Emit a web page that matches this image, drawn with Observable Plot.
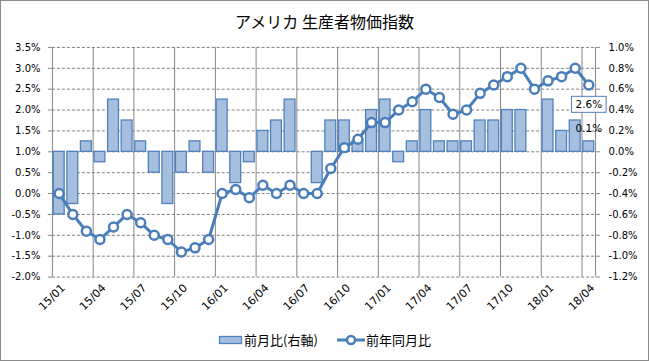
<!DOCTYPE html>
<html><head><meta charset="utf-8">
<script src="https://cdn.jsdelivr.net/npm/d3@7"></script>
<script src="https://cdn.jsdelivr.net/npm/@observablehq/plot@0.6"></script>
<style>
body{margin:0;background:#fff;}
#chart{position:relative;width:649px;height:361px;box-sizing:border-box;border:1px solid #8c8c8c;overflow:hidden;background:#fff;}
#title{position:absolute;left:0;right:0;top:9px;text-align:center;font-family:"Noto Sans CJK JP",sans-serif;font-size:16px;color:#000;line-height:22px;}
#plot{position:absolute;left:-1px;top:-1px;}
#legend{position:absolute;left:0;right:0;top:330px;display:flex;justify-content:center;align-items:center;font-family:"Noto Sans CJK JP",sans-serif;font-size:13px;color:#000;line-height:18px;}
#legend .item{display:flex;align-items:center;}
#legend svg{display:block;}
</style></head>
<body>
<div id="chart">
  <div id="title">アメリカ 生産者物価指数</div>
  <div id="plot"></div>
  <div id="legend">
    <div class="item"><svg width="26" height="10"><rect x="1.5" y="1.5" width="22" height="7" fill="#A7BFDE" stroke="#4F81BD" stroke-width="1.3"/></svg><span>前月比(右軸)</span></div>
    <div class="item" style="margin-left:18px"><svg width="30" height="12"><line x1="1" y1="6" x2="29" y2="6" stroke="#4A7EBB" stroke-width="3"/><circle cx="15" cy="6" r="4" fill="#fff" stroke="#4A7EBB" stroke-width="2.5"/></svg><span>前年同月比</span></div>
  </div>
</div>
<script>
const months = ["15/01","15/02","15/03","15/04","15/05","15/06","15/07","15/08","15/09","15/10","15/11","15/12",
  "16/01","16/02","16/03","16/04","16/05","16/06","16/07","16/08","16/09","16/10","16/11","16/12",
  "17/01","17/02","17/03","17/04","17/05","17/06","17/07","17/08","17/09","17/10","17/11","17/12",
  "18/01","18/02","18/03","18/04"];
// 前月比 (right axis, %)
const momPct = [-0.6,-0.5,0.1,-0.1,0.5,0.3,0.1,-0.2,-0.5,-0.2,0.1,-0.2,
  0.5,-0.3,-0.1,0.2,0.3,0.5,0.0,-0.3,0.3,0.3,0.1,0.4,
  0.5,-0.1,0.1,0.4,0.1,0.1,0.1,0.3,0.3,0.4,0.4,0.0,
  0.5,0.2,0.3,0.1];
// 前年同月比 (left axis, %)
const yoyPct = [0.0,-0.5,-0.9,-1.1,-0.8,-0.5,-0.7,-1.0,-1.1,-1.4,-1.3,-1.1,
  0.0,0.1,-0.1,0.2,0.0,0.2,0.0,0.0,0.6,1.1,1.3,1.7,
  1.7,2.0,2.2,2.5,2.3,1.9,2.0,2.4,2.6,2.8,3.0,2.5,
  2.7,2.8,3.0,2.6];
const leftTicks = [-2.0,-1.5,-1.0,-0.5,0.0,0.5,1.0,1.5,2.0,2.5,3.0,3.5];
const rightTicks = [-1.2,-1.0,-0.8,-0.6,-0.4,-0.2,0.0,0.2,0.4,0.6,0.8,1.0];

const L0 = leftTicks[0], L1 = leftTicks[leftTicks.length-1];
const R0 = rightTicks[0], R1 = rightTicks[rightTicks.length-1];
const toLeft = r => L0 + (r - R0) * (L1 - L0) / (R1 - R0);
const rightLabel = new Map(rightTicks.map(r => [toLeft(r), r.toFixed(1) + "%"]));

const rows = months.map((m, i) => ({i, month: m, mom: momPct[i], yoy: yoyPct[i]}));
const last = rows[rows.length - 1];
const xLabelPos = d3.range(0, months.length, 3).map(i => i + 0.5);
const gridX = d3.range(0, months.length, 3);

const chart = Plot.plot({
  width: 649, height: 361,
  marginLeft: 52, marginRight: 53, marginTop: 47, marginBottom: 84,
  x: {domain: [0, months.length], axis: null},
  y: {domain: [L0, L1], axis: null},
  style: {fontFamily: "DejaVu Sans, sans-serif", fontSize: "10px", color: "#000", background: "transparent", overflow: "visible"},
  marks: [
    Plot.ruleY(leftTicks, {stroke: "#7f7f7f", strokeDasharray: "3,2", strokeWidth: 1}),
    Plot.ruleX(gridX, {stroke: "#868686", strokeWidth: 1}),
    Plot.ruleX([months.length], {stroke: "#868686", strokeWidth: 1}),
    Plot.rectY(rows, {x1: d => d.i + 0.1, x2: d => d.i + 0.9, y1: toLeft(0), y2: d => toLeft(d.mom),
      fill: "#A7BFDE", stroke: "#4F81BD", strokeWidth: 1.3}),
    Plot.line(rows, {x: d => d.i + 0.5, y: "yoy", stroke: "#4A7EBB", strokeWidth: 3}),
    Plot.dot(rows, {x: d => d.i + 0.5, y: "yoy", r: 4.5, fill: "#fff", stroke: "#4A7EBB", strokeWidth: 2.5}),
    Plot.axisY(leftTicks, {anchor: "left", label: null, tickFormat: d => d.toFixed(1) + "%", tickSize: 4, tickPadding: 8, stroke: "#868686", fill: "#000"}),
    Plot.axisY(rightTicks.map(toLeft), {anchor: "right", label: null, tickFormat: v => rightLabel.get(v), tickSize: 4, tickPadding: 9, stroke: "#868686", fill: "#000"}),
    Plot.axisX(xLabelPos, {anchor: "bottom", label: null, tickFormat: t => months[Math.floor(t)], tickRotate: -45, tickSize: 0, tickPadding: 9, dx: 4, fontSize: 11, fill: "#000"}),
    Plot.text([last], {x: d => d.i + 0.5, y: "yoy", text: d => d.yoy.toFixed(1) + "%", dy: 20, fontSize: 10.5, fill: "#000", className: "yoy-label"}),
    Plot.text([last], {x: d => d.i + 0.5, y: d => toLeft(d.mom), text: d => d.mom.toFixed(1) + "%", dy: -13, fontSize: 10.5, fill: "#000"})
  ]
});
document.getElementById("plot").appendChild(chart);

// box around the last YoY data label
const lab = chart.querySelector(".yoy-label text");
if (lab) {
  const bb = lab.getBBox();
  const rect = document.createElementNS("http://www.w3.org/2000/svg", "rect");
  rect.setAttribute("x", bb.x - 4);
  rect.setAttribute("y", bb.y - 2);
  rect.setAttribute("width", bb.width + 8);
  rect.setAttribute("height", bb.height + 4);
  rect.setAttribute("fill", "#fff");
  rect.setAttribute("stroke", "#4F81BD");
  rect.setAttribute("stroke-width", "1");
  const ctm = lab.getAttribute("transform");
  if (ctm) rect.setAttribute("transform", ctm);
  lab.parentNode.insertBefore(rect, lab);
}
</script>
</body></html>
